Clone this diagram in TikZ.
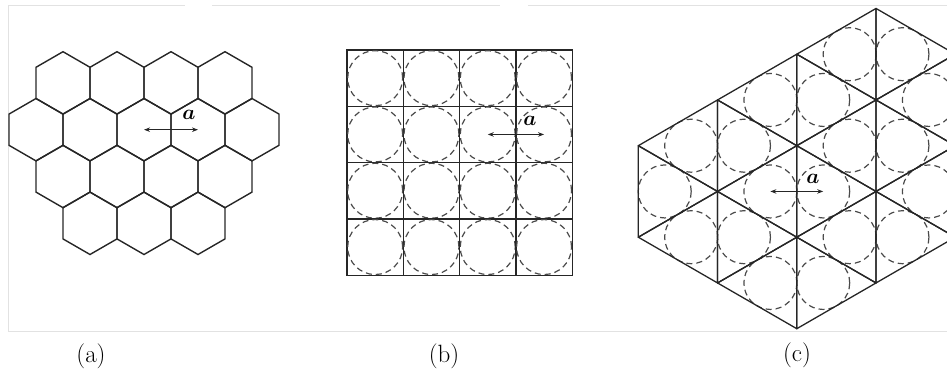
\documentclass[tikz,border=0pt]{standalone}
\usetikzlibrary{shapes.geometric,arrows.meta}
\definecolor{ink}{HTML}{262626}
\definecolor{dashc}{HTML}{4A4A4A}
\definecolor{framec}{HTML}{E2E2E2}
\begin{document}
\begin{tikzpicture}[x=1pt,y=-1pt,
  hexcell/.style={regular polygon, regular polygon sides=6, minimum size=62.4pt,
    inner sep=0pt, outer sep=0pt, draw=ink, line width=1.4pt, shape border rotate=30},
  sqcell/.style={rectangle, minimum size=56.3pt, inner sep=0pt, outer sep=0pt,
    draw=ink, line width=1.3pt},
  dcirc/.style={circle, minimum size=#1, inner sep=0pt, outer sep=0pt, draw=dashc,
    line width=1.2pt, dash pattern=on 6pt off 4pt},
  triline/.style={draw=ink, line width=1.3pt, line join=round},
  framel/.style={draw=framec, line width=0.8pt},
  avec/.style={<->, >={Stealth[length=6pt,width=4.5pt]}, draw=ink, line width=1.1pt},
  alabel/.style={font=\fontsize{22}{26}\selectfont\boldmath, inner sep=0pt},
  caption/.style={font=\fontsize{25}{30}\selectfont, inner sep=0pt}]
\useasboundingbox (0,0) rectangle (947,374);
% frame
\draw[framel] (8,331) -- (8,5) -- (185,5);
\draw[framel] (212,5) -- (500,5);
\draw[framel] (528,5) -- (947,5);
\draw[framel] (8,331) -- (947,331);
% (a) hexagons
\foreach \r/\y/\xs in {1/82.9/{63,117,171,225},2/129.7/{36,90,144,198,252},
                       3/176.5/{63,117,171,225},4/223.3/{90,144,198}} {
  \foreach \x [count=\c] in \xs {
    \node[hexcell] (hex-\r-\c) at (\x,\y) {};
  }
}
\draw[avec] (hex-2-3.center) -- (hex-2-4.center);
\node[alabel] (la) at (189,115) {$a$};
% (b) squares with inscribed circles
\foreach \r in {0,...,3} {
  \foreach \c in {0,...,3} {
    \node[sqcell] (sq-\r-\c) at ({375.15+56.3*\c},{78.15+56.3*\r}) {};
    \node[dcirc=55pt] (sc-\r-\c) at (sq-\r-\c.center) {};
  }
}
\draw[avec] (sq-1-2.center) -- (sq-1-3.center);
\node[alabel] (lb) at (530,121) {$a$};
% (c) triangular lattice
\foreach \i in {0,...,5} {
  \foreach \j in {0,...,4} {
    \coordinate (v-\i-\j) at ({638.3+79.24*\i},{145.7+91.5*\j-45.75*\i});
  }
}
\begin{scope}
\clip (600,0) rectangle (947,374);
\foreach \i/\j in {0/0,1/0,1/1,2/0,2/1,2/2,3/0,3/1,3/2} {
  \node[dcirc=53pt] (rc-\i-\j) at ({638.3+79.24*\i+26.41},{145.7+91.5*\j-45.75*\i+45.75}) {};
}
\foreach \i/\j in {0/0,0/1,1/0,1/1,1/2,2/0,2/1,2/2,3/1,3/2} {
  \node[dcirc=53pt] (lc-\i-\j) at ({638.3+79.24*\i+52.83},{145.7+91.5*\j-45.75*\i}) {};
}
\foreach \i/\j in {0/0,1/0,1/1,2/0,2/1,2/2,3/0,3/1,3/2} {
  \pgfmathtruncatemacro\ip{\i+1}
  \pgfmathtruncatemacro\jp{\j+1}
  \draw[triline] (v-\i-\j) -- (v-\i-\jp) -- (v-\ip-\jp) -- cycle;
}
\foreach \i/\j in {0/0,0/1,1/0,1/1,1/2,2/0,2/1,2/2,3/1,3/2} {
  \pgfmathtruncatemacro\ip{\i+1}
  \pgfmathtruncatemacro\jp{\j+1}
  \draw[triline] (v-\ip-\j) -- (v-\ip-\jp) -- (v-\i-\j) -- cycle;
}
\end{scope}
\draw[avec] (lc-1-1.center) -- (rc-2-1.center);
\node[alabel] (lc) at (813,179) {$a$};
% captions
\node[caption] (capa) at (91,356) {(a)};
\node[caption] (capb) at (444,356) {(b)};
\node[caption] (capc) at (797,355) {(c)};
\end{tikzpicture}
\end{document}
